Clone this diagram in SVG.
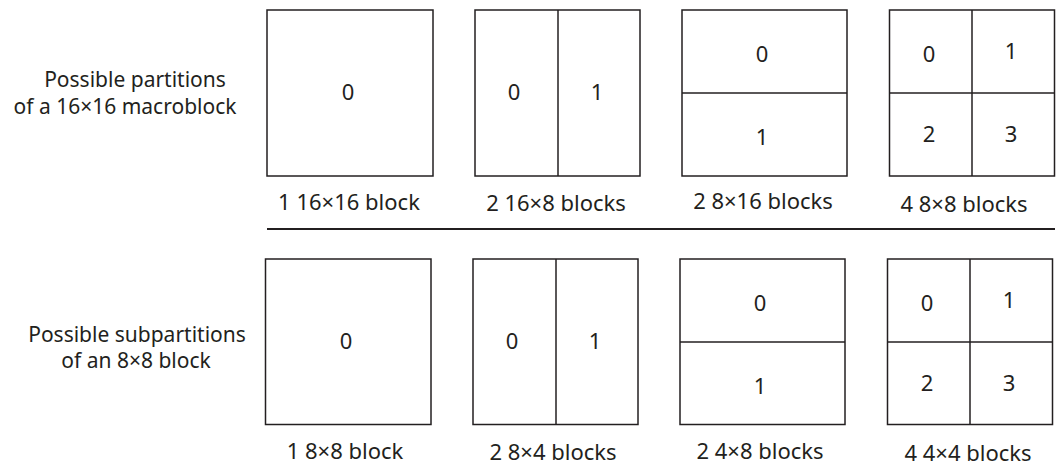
<svg xmlns="http://www.w3.org/2000/svg" width="1056" height="465" viewBox="0 0 1056 465">
  <style>
    .box { fill: #ffffff; stroke: #231f20; stroke-width: 1.5; }
    .div { stroke: #231f20; stroke-width: 1.5; fill: none; }
    .sep { stroke: #231f20; stroke-width: 1.8; fill: none; }
    text { font-family: "Noto Sans", "Open Sans", sans-serif; font-size: 22px; fill: #231f20; }
    .num { text-anchor: middle; }
    .lbl { text-anchor: middle; }
    .side { text-anchor: middle; font-size: 21px; }
  </style>
  <rect width="1056" height="465" fill="#ffffff"/>

  <g id="row-labels">
    <text class="side" x="135" y="87">Possible partitions</text>
    <text class="side" x="125" y="114">of a 16×16 macroblock</text>
    <text class="side" x="137" y="342">Possible subpartitions</text>
    <text class="side" x="136" y="368">of an 8×8 block</text>
  </g>

  <!-- Top row: macroblock partitions -->
  <g id="mb-16x16">
    <rect class="box" x="267" y="10" width="166" height="166"/>
    <text class="num" x="348" y="100">0</text>
    <text class="lbl" x="349" y="210">1 16×16 block</text>
  </g>
  <g id="mb-16x8">
    <rect class="box" x="475" y="10" width="165" height="166"/>
    <line class="div" x1="558" y1="10" x2="558" y2="176"/>
    <text class="num" x="514" y="100">0</text>
    <text class="num" x="597" y="100">1</text>
    <text class="lbl" x="556" y="211">2 16×8 blocks</text>
  </g>
  <g id="mb-8x16">
    <rect class="box" x="682" y="10" width="165" height="166"/>
    <line class="div" x1="682" y1="93" x2="847" y2="93"/>
    <text class="num" x="762" y="62">0</text>
    <text class="num" x="762" y="145">1</text>
    <text class="lbl" x="763" y="209">2 8×16 blocks</text>
  </g>
  <g id="mb-8x8">
    <rect class="box" x="889.5" y="10" width="165" height="166"/>
    <line class="div" x1="972" y1="10" x2="972" y2="176"/>
    <line class="div" x1="889.5" y1="93" x2="1054.5" y2="93"/>
    <text class="num" x="929" y="62">0</text>
    <text class="num" x="1011" y="59">1</text>
    <text class="num" x="929" y="142">2</text>
    <text class="num" x="1011" y="142">3</text>
    <text class="lbl" x="964" y="212">4 8×8 blocks</text>
  </g>

  <g id="connectors">
    <line class="sep" x1="267" y1="229" x2="1055" y2="229"/>
  </g>

  <!-- Bottom row: sub-macroblock partitions -->
  <g id="sub-8x8">
    <rect class="box" x="265.5" y="259" width="165.5" height="165.5"/>
    <text class="num" x="346" y="349">0</text>
    <text class="lbl" x="345" y="459">1 8×8 block</text>
  </g>
  <g id="sub-8x4">
    <rect class="box" x="473" y="259" width="165" height="165.5"/>
    <line class="div" x1="556" y1="259" x2="556" y2="424.5"/>
    <text class="num" x="512" y="349">0</text>
    <text class="num" x="595" y="349">1</text>
    <text class="lbl" x="553" y="460">2 8×4 blocks</text>
  </g>
  <g id="sub-4x8">
    <rect class="box" x="680" y="259" width="165" height="165.5"/>
    <line class="div" x1="680" y1="342" x2="845" y2="342"/>
    <text class="num" x="760" y="311">0</text>
    <text class="num" x="760" y="394">1</text>
    <text class="lbl" x="760" y="459">2 4×8 blocks</text>
  </g>
  <g id="sub-4x4">
    <rect class="box" x="887.5" y="259" width="165" height="165.5"/>
    <line class="div" x1="970" y1="259" x2="970" y2="424.5"/>
    <line class="div" x1="887.5" y1="342" x2="1052.5" y2="342"/>
    <text class="num" x="927" y="311">0</text>
    <text class="num" x="1009" y="308">1</text>
    <text class="num" x="927" y="391">2</text>
    <text class="num" x="1009" y="391">3</text>
    <text class="lbl" x="968" y="461">4 4×4 blocks</text>
  </g>
</svg>
